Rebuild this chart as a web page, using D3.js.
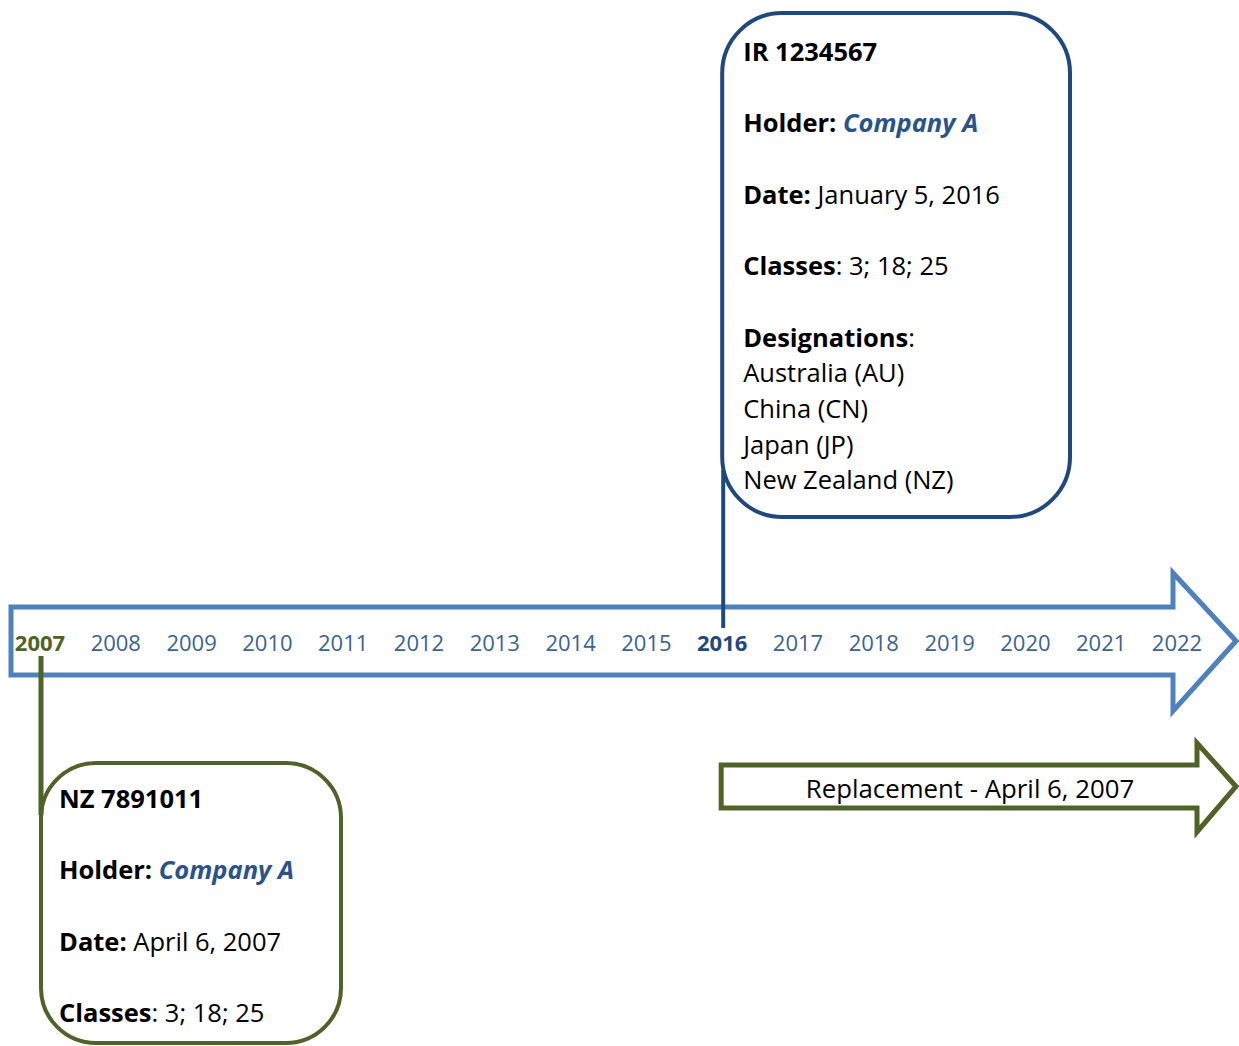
<!DOCTYPE html>
<html>
<head>
<meta charset="utf-8">
<script src="https://cdnjs.cloudflare.com/ajax/libs/d3/7.8.5/d3.min.js"></script>
<style>
  body { margin: 0; background: #fff; }
  svg { display: block; font-family: 'Open Sans', sans-serif; }
</style>
</head>
<body>
<svg id="chart" width="1239" height="1046"></svg>
<script>
// Timeline data
var years = d3.range(2007, 2023);
var highlight = {2007: "#4F6228", 2016: "#1F497D"};

// IR registration (2016), shown above the timeline
var irYear = 2016;
var irLines = [
  [{t: "IR 1234567", b: true}],
  [],
  [{t: "Holder: ", b: true}, {t: "Company A", b: true, i: true, c: "#2A538A"}],
  [],
  [{t: "Date:", b: true}, {t: " January 5, 2016"}],
  [],
  [{t: "Classes", b: true}, {t: ": 3; 18; 25"}],
  [],
  [{t: "Designations", b: true}, {t: ":"}],
  [{t: "Australia (AU)"}],
  [{t: "China (CN)"}],
  [{t: "Japan (JP)"}],
  [{t: "New Zealand (NZ)"}]
];

// NZ registration (2007), shown below the timeline
var nzYear = 2007;
var nzLines = [
  [{t: "NZ 7891011", b: true}],
  [],
  [{t: "Holder: ", b: true}, {t: "Company A", b: true, i: true, c: "#2A538A"}],
  [],
  [{t: "Date:", b: true}, {t: " April 6, 2007"}],
  [],
  [{t: "Classes", b: true}, {t: ": 3; 18; 25"}]
];

var replacementLabel = "Replacement - April 6, 2007";

// Set up
const svg = d3.select("#chart");
const blue = "#4F81BD", navy = "#1F497D", olive = "#4F6228";

const xscale = d3.scaleLinear()
  .domain([2007, 2022])
  .range([40, 1177]);

// Block arrow outline
const arrow = function(x0, x1, xTip, yTop, yBot, headTop, headBot) {
  const ym = (yTop + yBot) / 2;
  return d3.line()([
    [x0, yTop], [x1, yTop], [x1, headTop], [xTip, ym],
    [x1, headBot], [x1, yBot], [x0, yBot]
  ]) + "Z";
};

svg.append("path")
  .attr("d", arrow(11, 1173, 1236, 607, 675, 573, 711))
  .attr("fill", "#fff")
  .attr("stroke", blue)
  .attr("stroke-width", 5);

svg.append("g").selectAll("text")
  .data(years)
  .join("text")
  .attr("x", d => xscale(d))
  .attr("y", 651)
  .attr("text-anchor", "middle")
  .style("font-size", "22px")
  .style("font-weight", d => highlight[d] ? "bold" : "normal")
  .attr("fill", d => highlight[d] || "#3A6396")
  .text(d => d);

// Rich text lines, blank entries just take up a line
const writeLines = function(g, lines, x, y0, step) {
  lines.forEach(function(parts, i) {
    if (!parts.length) return;
    const t = g.append("text").attr("x", x).attr("y", y0 + i * step)
      .style("font-size", "25.5px").attr("fill", "#000");
    parts.forEach(function(p) {
      t.append("tspan")
        .style("font-weight", p.b ? "bold" : "normal")
        .style("font-style", p.i ? "italic" : "normal")
        .attr("fill", p.c || "#000")
        .text(p.t);
    });
  });
};

// IR box
const irX = xscale(irYear);
svg.append("rect")
  .attr("x", irX).attr("y", 13)
  .attr("width", 1070 - irX).attr("height", 504)
  .attr("rx", 60)
  .attr("fill", "#fff")
  .attr("stroke", navy)
  .attr("stroke-width", 4);
writeLines(svg.append("g"), irLines, irX + 21, 61, 35.7);

svg.append("line")
  .attr("x1", irX + 1).attr("x2", irX + 1)
  .attr("y1", 470).attr("y2", 628)
  .attr("stroke", navy)
  .attr("stroke-width", 4);

// NZ box
const nzX = xscale(nzYear) + 1;
svg.append("rect")
  .attr("x", nzX).attr("y", 763)
  .attr("width", 341 - nzX).attr("height", 280)
  .attr("rx", 55)
  .attr("fill", "#fff")
  .attr("stroke", olive)
  .attr("stroke-width", 4);
writeLines(svg.append("g"), nzLines, nzX + 18, 808, 35.7);

svg.append("line")
  .attr("x1", nzX).attr("x2", nzX)
  .attr("y1", 656).attr("y2", 815)
  .attr("stroke", olive)
  .attr("stroke-width", 5);

// Replacement arrow
svg.append("path")
  .attr("d", arrow(irX - 1, 1197, 1236, 765, 808, 743, 832))
  .attr("fill", "#fff")
  .attr("stroke", olive)
  .attr("stroke-width", 5);

svg.append("text")
  .attr("x", 970).attr("y", 798)
  .attr("text-anchor", "middle")
  .style("font-size", "25.8px")
  .attr("fill", "#000")
  .text(replacementLabel);
</script>
</body>
</html>
